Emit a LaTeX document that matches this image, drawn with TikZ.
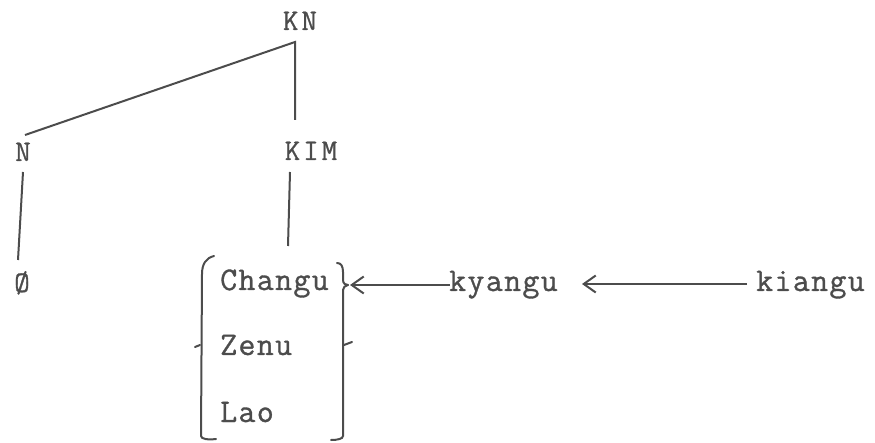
\documentclass[tikz,border=0pt]{standalone}
\usepackage{fontspec}
\setmonofont[LetterSpace=4,FakeBold=1]{Latin Modern Mono}
\newfontfamily\treefont[LetterSpace=10,FakeBold=1]{Latin Modern Mono}
\usetikzlibrary{arrows.meta}
\definecolor{ink}{HTML}{4C4C4C}
\tikzset{
  lbl/.style={font=\ttfamily\fontsize{33}{33}\selectfont, text=ink, inner sep=0pt, anchor=base},
  lblw/.style={lbl, anchor=base west},
  tlbl/.style={lbl, font=\treefont\fontsize{30}{30}\selectfont},
  ln/.style={draw=ink, line width=2pt},
  arr/.style={ln, -{Straight Barb[length=12pt,width=17pt,line width=2pt]}},
  brk/.style={draw=ink, line width=2pt, line cap=round}
}
\begin{document}
\begin{tikzpicture}[x=1pt,y=-1pt]
\useasboundingbox (0,0) rectangle (875,443);
% tree labels
\node[tlbl] (KN) at (300,30) {KN};
\node[tlbl] (N) at (23,161) {N};
\node[tlbl] (KIM) at (311,160) {KIM};
\node[lbl, font=\ttfamily\fontsize{30}{30}\selectfont] (null) at (22,292) {Ø};
% tree line ends
\coordinate (apex) at (295,42);
\coordinate (nTop) at (25,135);
\coordinate (kimTop) at (295,120);
\coordinate (nLow) at (23,172);
\coordinate (nullTop) at (18,260);
\coordinate (kimLow) at (290,172);
\coordinate (setTop) at (288,246);
\draw[ln] (nTop) -- (apex) -- (kimTop);
\draw[ln] (nLow) -- (nullTop);
\draw[ln] (kimLow) -- (setTop);
% set members
\node[lblw] (changu) at (220,290) {Changu};
\node[lblw] (zenu) at (220,355) {Zenu};
\node[lblw] (lao) at (220,422) {Lao};
% brackets
\draw[brk] (214,256) .. controls (206,258) and (202,264) .. (202,274) -- (201,436) .. controls (201,439) and (208,440) .. (216,439);
\draw[brk] (195,347) -- (200,345);
\draw[brk] (337,263) .. controls (341,263) and (343,266) .. (343,272) -- (343,280) .. controls (343,284) and (346,285) .. (348,285)
  (343,290) -- (343,436) .. controls (343,439) and (337,440) .. (331,440);
\draw[brk] (343,290) .. controls (343,287) and (345,286) .. (348,285);
\draw[brk] (344,345) -- (352,342);
% derivation
\node[lblw] (kyangu) at (449,291) {kyangu};
\node[lblw] (kiangu) at (756,291) {kiangu};
\coordinate (chTip) at (350,285);
\draw[arr] (kyangu.west |- chTip) ++(1,0) -- (chTip);
\coordinate (kyTip) at (582,284);
\coordinate (kiTail) at (747,284);
\draw[arr] (kiTail) -- (kyTip);
\end{tikzpicture}
\end{document}
